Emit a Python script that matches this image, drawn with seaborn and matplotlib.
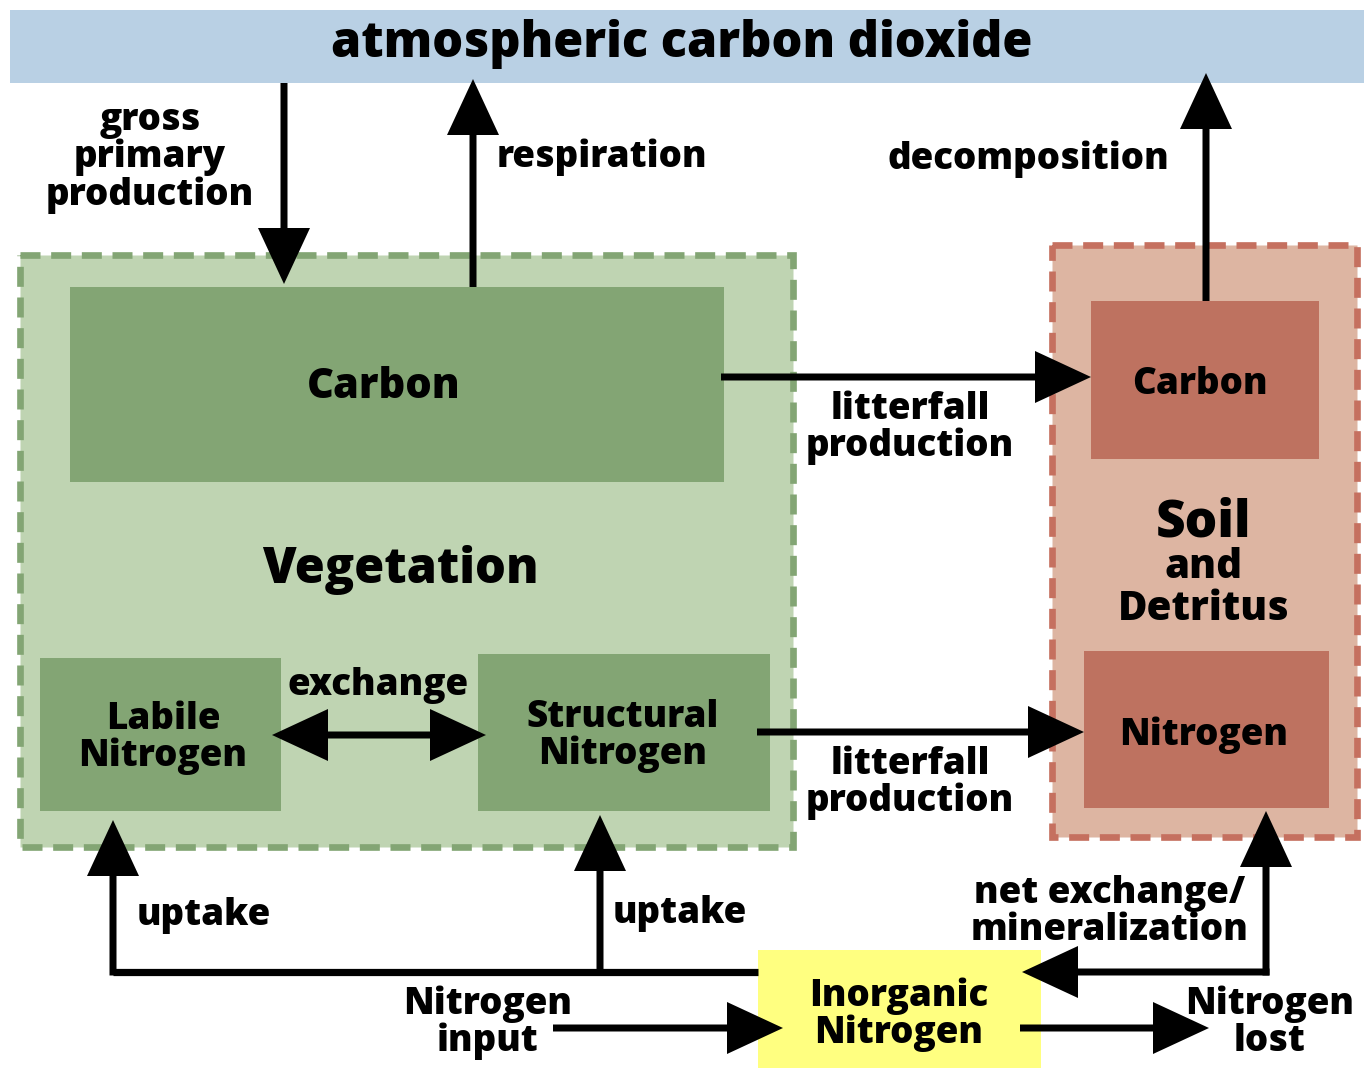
import matplotlib
matplotlib.use("Agg")
import matplotlib.pyplot as plt
import matplotlib.patches as mpatches
import seaborn as sns

# labels of the diagram
title = "atmospheric carbon dioxide"
pools = ["Carbon", "Labile\nNitrogen", "Structural\nNitrogen", "Carbon", "Nitrogen", "Inorganic\nNitrogen"]
groups = ["Vegetation", "Soil", "and", "Detritus"]
flows = ["gross\nprimary\nproduction", "respiration", "decomposition",
         "litterfall\nproduction", "litterfall\nproduction", "exchange",
         "uptake", "uptake", "net exchange/\nmineralization",
         "Nitrogen\ninput", "Nitrogen\nlost"]

# colours
sky = "#b9d0e4"
veg_light, veg_dark = "#bfd4b2", "#83a574"
soil_light, soil_dark, soil_edge = "#ddb5a2", "#be7260", "#c5705f"
yellow = "#ffff80"

sns.set_theme(style="white")
plt.rcParams["font.family"] = ["Open Sans", "DejaVu Sans"]
plt.rcParams["font.weight"] = "heavy"

fig = plt.figure(figsize=(13.64, 10.72), dpi=100)
ax = fig.add_axes([0, 0, 1, 1])
ax.set_xlim(0, 1364)
ax.set_ylim(1072, 0)
ax.set_axis_off()


def box(x0, y0, x1, y1, fc, ec=None, dashed=False):
    r = mpatches.Rectangle((x0, y0), x1 - x0, y1 - y0, facecolor=fc,
                           edgecolor=ec if ec else "none",
                           linewidth=4.8 if dashed else 0,
                           linestyle=(0, (3.0, 1.6)) if dashed else "-",
                           zorder=1 if dashed else 2)
    ax.add_patch(r)


def arrow(x0, y0, x1, y1):
    ax.arrow(x0, y0, x1 - x0, y1 - y0, width=7, head_width=52, head_length=56,
             length_includes_head=True, color="black", zorder=5, linewidth=0)


def line(xs, ys):
    ax.plot(xs, ys, color="black", linewidth=5.2, solid_capstyle="butt", zorder=5)


def label(x, y, s, size=26.5, ha="center"):
    # small shift down: va="center" counts the descender
    ax.text(x, y + 4, s, ha=ha, va="center", fontsize=size, fontweight="heavy",
            linespacing=1.0, zorder=6, color="black")


# atmosphere bar
box(10, 10, 1364, 83, sky)
label(682, 40, title, size=35)

# vegetation
box(20, 255, 793, 847, veg_light, veg_dark, dashed=True)
box(70, 287, 724, 482, veg_dark)
box(40, 658, 281, 811, veg_dark)
box(478, 654, 770, 811, veg_dark)
label(384, 383, pools[0], size=30)
label(163, 734, pools[1])
label(623, 732, pools[2])
label(400, 566, groups[0], size=35)

# soil and detritus
box(1052, 245, 1357, 837, soil_light, soil_edge, dashed=True)
box(1091, 301, 1319, 459, soil_dark)
box(1084, 651, 1329, 808, soil_dark)
label(1200, 381, pools[3])
label(1204, 731, pools[4])
label(1204, 519, groups[1], size=37)
label(1204, 564, groups[2], size=29)
label(1204, 606, groups[3], size=29)

# inorganic nitrogen
box(758, 950, 1041, 1068, yellow)
label(899, 1011, pools[5])

# carbon flows
arrow(284, 83, 284, 284)
label(150, 154, flows[0])
arrow(473, 287, 473, 79)
label(497, 153, flows[1], ha="left")
arrow(1206, 301, 1206, 73)
label(1028, 155, flows[2])
arrow(721, 377, 1091, 377)
label(910, 424, flows[3])

# nitrogen flows
arrow(757, 732, 1084, 732)
label(910, 779, flows[4])
arrow(378, 735, 272, 735)
arrow(378, 735, 486, 735)
label(378, 681, flows[5])

line([113, 758], [972, 972])
arrow(113, 975.5, 113, 820)
arrow(600, 972, 600, 815)
label(204, 912, flows[6])
label(680, 910, flows[7])

arrow(1266, 975.5, 1266, 811)
arrow(1269.5, 972, 1022, 972)
label(1110, 908, flows[8])

arrow(553, 1028, 783, 1028)
label(488, 1019, flows[9])
arrow(1020, 1028, 1209, 1028)
label(1270, 1019, flows[10])

fig.savefig("out.png", dpi=100)
